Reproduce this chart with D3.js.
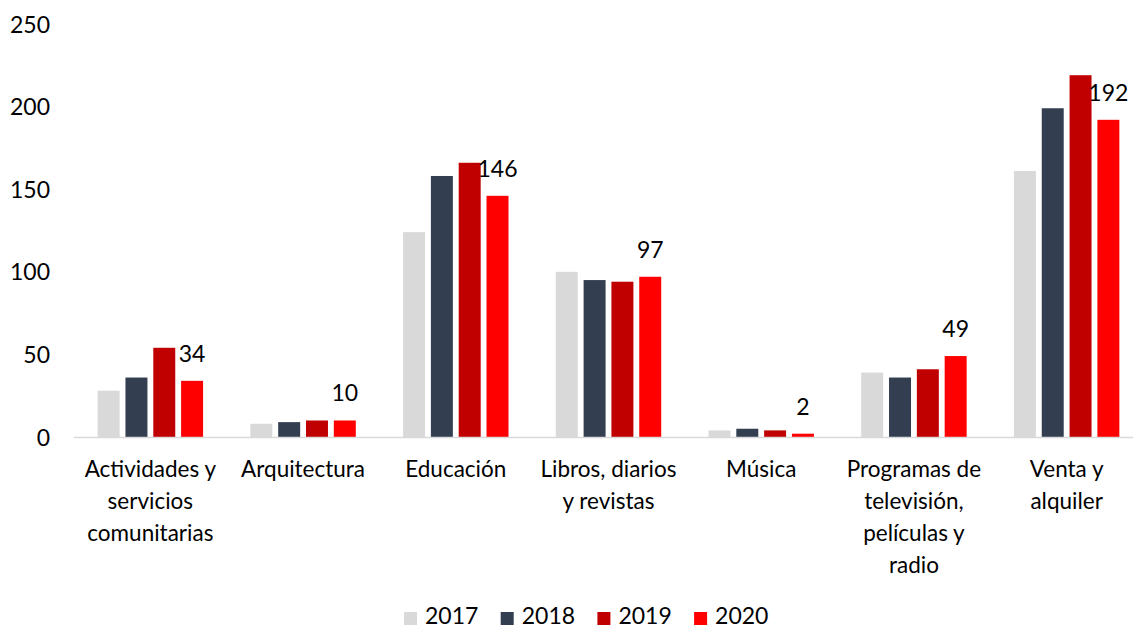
<!DOCTYPE html>
<html>
<head>
<meta charset="utf-8">
<style>
    body { margin: 0; background: #fff; overflow: hidden; }
    text { font-family: Lato, "Open Sans", sans-serif; fill: #000; }
    .tick text { font-size: 23px; }
    .cat text { font-size: 22.5px; text-anchor: middle; }
    .lbl { font-size: 23px; text-anchor: middle; }
    .legend text { font-size: 23px; }
</style>
<script src="https://d3js.org/d3.v7.min.js"></script>
</head>
<body>
<svg width="1133" height="628"></svg>
<script>
// data
var categories = [
    ["Actividades y", "servicios", "comunitarias"],
    ["Arquitectura"],
    ["Educación"],
    ["Libros, diarios", "y revistas"],
    ["Música"],
    ["Programas de", "televisión,", "películas y", "radio"],
    ["Venta y", "alquiler"]
];
var years = ["2017", "2018", "2019", "2020"];
var v2017 = [28, 8, 124, 100, 4, 39, 161];
var v2018 = [36, 9, 158, 95, 5, 36, 199];
var v2019 = [54, 10, 166, 94, 4, 41, 219];
var v2020 = [34, 10, 146, 97, 2, 49, 192];
var yTicks = [0, 50, 100, 150, 200, 250];
var colors = ["#d9d9d9", "#333f50", "#c00000", "#ff0000"];

var series = [v2017, v2018, v2019, v2020];

var svg = d3.select("svg");

var x0 = d3.scaleBand()
    .domain(d3.range(categories.length))
    .range([74, 1143])
    .paddingInner(0)
    .paddingOuter(0);

var x1 = d3.scaleBand()
    .domain(years)
    .range([0, x0.bandwidth()])
    .paddingInner(0.21)
    .paddingOuter(0.85);

var y = d3.scaleLinear()
    .domain([0, 250])
    .range([437, 24]);

var color = d3.scaleOrdinal().domain(years).range(colors);

// y axis labels
var yAxis = svg.append("g")
    .attr("transform", "translate(50,0)")
    .call(d3.axisLeft(y).tickValues(yTicks).tickSize(0).tickPadding(0));
yAxis.select(".domain").remove();
yAxis.selectAll("text").attr("dy", "0.35em");

// bars
var groups = svg.selectAll(".grp")
    .data(categories)
    .enter().append("g")
    .attr("class", "grp")
    .attr("transform", function (d, i) { return "translate(" + x0(i) + ",0)"; });

groups.selectAll("rect")
    .data(function (d, i) {
        return years.map(function (yr, j) { return { year: yr, value: series[j][i] }; });
    })
    .enter().append("rect")
    .attr("x", function (d) { return x1(d.year); })
    .attr("width", x1.bandwidth())
    .attr("y", function (d) { return y(d.value); })
    .attr("height", function (d) { return y(0) - y(d.value); })
    .attr("fill", function (d) { return color(d.year); });

// value labels on 2020
groups.append("text")
    .attr("class", "lbl")
    .attr("x", x1("2020") + x1.bandwidth() / 2)
    .attr("y", function (d, i) { return y(v2020[i]) - 19; })
    .text(function (d, i) { return v2020[i]; });

// baseline
svg.append("line")
    .attr("x1", 74).attr("x2", 1133)
    .attr("y1", y(0) + 0.5).attr("y2", y(0) + 0.5)
    .attr("stroke", "#d9d9d9")
    .attr("stroke-width", 1.5);

// category labels
var cat = svg.append("g").attr("class", "cat");
cat.selectAll("text")
    .data(categories)
    .enter().append("text")
    .attr("x", function (d, i) { return x0(i) + x0.bandwidth() / 2; })
    .attr("y", 477)
    .each(function (d) {
        var t = d3.select(this);
        d.forEach(function (line, k) {
            t.append("tspan")
                .attr("x", t.attr("x"))
                .attr("dy", k === 0 ? 0 : 32)
                .text(line);
        });
    });

// legend
var legend = svg.append("g").attr("class", "legend")
    .attr("transform", "translate(404,0)");
var item = legend.selectAll("g")
    .data(years)
    .enter().append("g")
    .attr("transform", function (d, i) { return "translate(" + (i * 96.7) + ",0)"; });
item.append("rect")
    .attr("y", 612)
    .attr("width", 13)
    .attr("height", 13)
    .attr("fill", function (d) { return color(d); });
item.append("text")
    .attr("x", 21)
    .attr("y", 624)
    .text(function (d) { return d; });
</script>
</body>
</html>
